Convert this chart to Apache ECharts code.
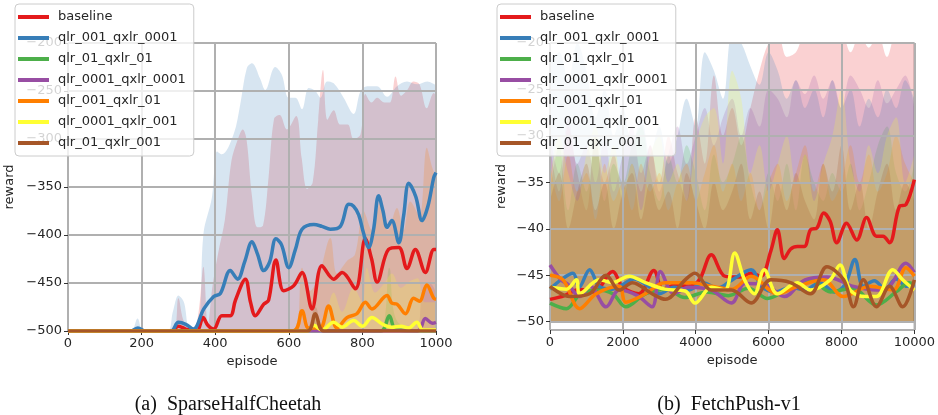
<!DOCTYPE html>
<html>
<head>
<meta charset="utf-8">
<script src="https://cdn.jsdelivr.net/npm/echarts@6/dist/echarts.min.js"></script>
<style>
  html, body { margin: 0; padding: 0; background: #fff; }
  #chart { width: 938px; height: 415px; }
</style>
</head>
<body>
<div id="chart"></div>
<script>
// run names and colours (same order in both plots)
const runNames = ['baseline', 'qlr_001_qxlr_0001', 'qlr_01_qxlr_01', 'qlr_0001_qxlr_0001',
  'qlr_001_qxlr_01', 'qlr_0001_qxlr_001', 'qlr_01_qxlr_001'];
const runColors = ['#e41a1c', '#377eb8', '#4daf4a', '#984ea3', '#ff7f00', '#ffff33', '#a65628'];

// ---- (a) SparseHalfCheetah : mean reward [episode, reward]
const cheetahBaseline = [[0,-500],[280,-500],[300,-495],[320,-498],[350,-500],[367,-486],[380,-494],[396,-498],[418,-484],[441,-484],[455,-468],[482,-446],[496,-470],[509,-484],[532,-472],[545,-468],[565,-426],[586,-458],[613,-453],[636,-439],[663,-477],[690,-432],[722,-446],[745,-439],[781,-456],[808,-404],[825,-425],[840,-449],[871,-415],[899,-413],[921,-435],[944,-415],[971,-439],[994,-415],[1000,-415]];
const cheetahQ001X0001 = [[0,-500],[170,-500],[190,-497],[210,-500],[280,-500],[300,-491],[320,-493],[341,-498],[369,-477],[396,-464],[414,-461],[441,-437],[461,-446],[480,-428],[500,-407],[515,-420],[532,-437],[548,-428],[565,-404],[580,-410],[600,-434],[618,-415],[636,-394],[668,-389],[690,-391],[713,-394],[740,-391],[763,-368],[776,-370],[790,-379],[803,-398],[817,-413],[830,-395],[844,-359],[856,-375],[867,-392],[880,-385],[899,-408],[912,-380],[926,-346],[945,-360],[962,-385],[978,-370],[994,-340],[1000,-335]];
const cheetahQ01X01 = [[0,-500],[850,-500],[873,-484],[892,-499],[1000,-500]];
const cheetahQ0001X0001 = [[0,-500],[950,-500],[971,-487],[990,-492],[1000,-491]];
const cheetahQ001X01 = [[0,-500],[612,-500],[636,-479],[654,-497],[685,-497],[708,-474],[731,-497],[758,-486],[785,-482],[808,-470],[826,-477],[867,-463],[880,-471],[894,-472],[917,-482],[939,-466],[955,-469],[975,-452],[994,-466],[1000,-467]];
const cheetahQ0001X001 = [[0,-500],[650,-500],[668,-494],[690,-499],[722,-491],[745,-496],[776,-489],[800,-495],[826,-486],[855,-493],[880,-496],[905,-495],[925,-497],[948,-491],[965,-499],[1000,-499]];
const cheetahQ01X001 = [[0,-500],[650,-500],[672,-482],[695,-500],[1000,-500]];

// ---- (a) spread: upper edge of each shaded band (lower edge is -500)
const cheetahBaselineTop = [[0,-500],[285,-500],[300,-466],[315,-490],[340,-500],[355,-480],[368,-433],[380,-495],[392,-455],[408,-419],[426,-385],[444,-323],[460,-302],[475,-290],[485,-300],[500,-360],[515,-392],[530,-390],[545,-340],[560,-279],[575,-275],[595,-290],[620,-276],[635,-320],[650,-352],[665,-345],[680,-280],[693,-228],[705,-280],[722,-270],[740,-285],[760,-285],[776,-300],[795,-295],[808,-253],[825,-262],[840,-257],[860,-262],[875,-262],[890,-235],[905,-255],[920,-250],[939,-240],[955,-243],[975,-268],[994,-252],[1000,-255]];
const cheetahQ001X0001Top = [[0,-500],[170,-500],[189,-487],[205,-500],[270,-500],[285,-480],[300,-463],[315,-470],[330,-497],[345,-497],[358,-486],[368,-399],[391,-361],[405,-313],[418,-316],[450,-295],[468,-264],[486,-226],[500,-221],[522,-237],[536,-249],[563,-225],[581,-233],[600,-257],[618,-257],[636,-269],[654,-247],[672,-250],[686,-257],[704,-240],[722,-242],[749,-257],[776,-274],[795,-250],[813,-245],[840,-245],[867,-256],[894,-245],[921,-240],[949,-243],[976,-240],[1000,-244]];
const cheetahQ01X01Top = [[0,-500],[845,-500],[873,-434],[895,-490],[1000,-500]];
const cheetahQ0001X0001Top = [[0,-500],[940,-500],[965,-455],[985,-451],[1000,-460]];
const cheetahQ001X01Top = [[0,-500],[615,-500],[636,-434],[658,-458],[680,-445],[713,-403],[731,-440],[758,-427],[780,-420],[803,-375],[826,-395],[849,-365],[870,-395],[894,-372],[912,-395],[930,-365],[955,-380],[975,-309],[990,-330],[1000,-340]];
const cheetahQ0001X001Top = [[0,-500],[650,-500],[670,-480],[690,-495],[722,-460],[745,-480],[776,-455],[800,-470],[812,-434],[835,-460],[860,-450],[880,-440],[905,-455],[930,-448],[950,-445],[970,-470],[1000,-470]];
const cheetahQ01X001Top = [[0,-500],[640,-500],[672,-475],[700,-500],[1000,-500]];

// ---- (b) FetchPush-v1 : mean reward [episode, reward]
const pushBaseline = [[0,-47.6],[400,-47.2],[815,-46.5],[1200,-46.8],[1720,-44.6],[2000,-46.3],[2440,-47],[2850,-44.5],[3100,-46.5],[3500,-46],[3800,-46.2],[4100,-45.5],[4430,-42.8],[4800,-45.1],[5200,-45.2],[5520,-44.8],[5790,-45.1],[6060,-42.4],[6240,-40.1],[6430,-43.2],[6600,-42.2],[6790,-41.9],[6980,-41.9],[7150,-40.1],[7330,-39.9],[7510,-38.3],[7690,-39.2],[7870,-41.5],[8140,-39.4],[8420,-41.2],[8690,-38.8],[8960,-40.8],[9140,-40.8],[9320,-41.5],[9590,-37.6],[9770,-37.4],[10000,-34.7]];
const pushQ001X0001 = [[0,-46.5],[300,-45.5],[630,-44.8],[800,-46.3],[1086,-44.4],[1350,-46.2],[1700,-46.5],[2000,-46],[2300,-45.4],[2700,-46.2],[3000,-47],[3400,-46.3],[3800,-46.6],[4200,-45.8],[4600,-46.4],[5000,-45.5],[5520,-44.4],[5800,-46.2],[6200,-46.8],[6600,-46.3],[7000,-46.6],[7400,-45.8],[7800,-46.8],[8100,-46],[8370,-43.3],[8600,-46.2],[8900,-45.6],[9200,-46.5],[9500,-45.4],[9800,-46.2],[10000,-46]];
const pushQ01X01 = [[0,-48],[450,-48.6],[815,-47.1],[1270,-46.6],[1720,-47],[2080,-48.4],[2620,-47],[3200,-46.5],[3700,-47.4],[4300,-46.8],[4900,-47.2],[5450,-46.4],[5970,-47.5],[6500,-46.6],[7150,-45.5],[7700,-46.8],[8300,-46.4],[8960,-48.2],[9500,-46.8],[9860,-45.8],[10000,-46]];
const pushQ0001X0001 = [[0,-43.9],[300,-45.5],[500,-46],[815,-47.3],[1100,-46.2],[1540,-48.4],[1900,-46.6],[2400,-47.2],[2800,-48.4],[3030,-44.6],[3400,-47],[3800,-46.3],[4430,-46.6],[4980,-48],[5350,-45.9],[5900,-46],[6430,-47.3],[7000,-45.5],[7600,-45.2],[8330,-46.2],[8960,-46.6],[9320,-46.2],[9770,-43.7],[10000,-44.7]];
const pushQ001X01 = [[0,-45],[360,-45.5],[815,-48.6],[1270,-47],[1900,-46.2],[2080,-47.9],[2620,-47],[3150,-45.8],[3900,-45.8],[4430,-46.2],[5000,-46.5],[5520,-45.1],[6240,-47],[6790,-46.2],[7510,-45.5],[8050,-47.3],[8780,-46.2],[9420,-46.6],[9770,-44.2],[10000,-45.1]];
const pushQ0001X001 = [[0,-46.3],[450,-46.5],[725,-45.5],[815,-47],[1350,-45.5],[1720,-45.8],[2170,-45.1],[2620,-45.8],[3150,-46.5],[3710,-46.7],[3980,-48],[4430,-46.3],[4800,-46.6],[5070,-42.6],[5340,-45.5],[5610,-47],[5880,-44.4],[6240,-47],[6790,-45.8],[7150,-46.6],[7690,-45.5],[7960,-43.9],[8240,-46.6],[8690,-47.3],[8960,-47.3],[9410,-44.4],[9680,-45.5],[10000,-46.6]];
const pushQ01X001 = [[0,-46.2],[545,-47.3],[1086,-47],[1540,-45],[1900,-46.6],[2260,-45.8],[2800,-47],[3170,-47.6],[3710,-45.5],[3980,-44.8],[4430,-46.6],[4980,-46.6],[5520,-48],[6060,-45.5],[6600,-45.8],[7150,-47],[7600,-44.1],[8060,-45.5],[8330,-48.4],[8600,-45.5],[8960,-48.4],[9320,-46.2],[9680,-48.4],[10000,-45.5]];

// ---- (b) spread: upper edge of each band at these episodes (lower edge is -50)
const pushBandEp = [0,250,500,750,1000,1250,1500,1750,2000,2250,2500,2750,3000,3250,3500,3750,4000,4250,4500,4750,5000,5250,5500,5750,6000,6250,6500,6750,7000,7250,7500,7750,8000,8250,8500,8750,9000,9250,9500,9750,10000];
const pushBaselineTop = [-31,-36,-29,-34,-38,-30,-35,-32,-37,-33,-36,-31,-35,-30,-34,-37,-28,-33,-23.5,-30,-27,-31,-27,-23,-20,-19,-21.5,-21,-19,-20,-18.5,-20,-19,-21,-19,-20.5,-19,-21.5,-19,-20,-19];
const pushQ001X0001Top = [-22,-21,-24,-20,-23,-28,-25,-30,-27,-31,-28,-32,-29,-33,-30,-26,-29,-21,-23,-26,-19,-20,-22.5,-24.5,-21,-23,-26,-24,-27,-25,-28,-24,-27,-25,-29,-26,-28,-25,-27,-24,-26];
const pushQ01X01Top = [-36,-31,-38,-33,-36,-30,-37,-33,-35,-31,-29,-34,-37,-32,-35,-31,-34,-38,-32,-35,-33,-30,-35,-38,-34,-37,-33,-38,-32,-35,-37,-34,-36,-33,-38,-35,-31,-29,-34,-36,-33];
const pushQ0001X0001Top = [-30,-34,-28,-33,-31,-35,-30,-36,-32,-29,-34,-31,-36,-32,-29,-33,-30,-27,-31,-28,-26,-30,-27,-29,-25,-26,-28,-24,-25.5,-23.5,-26,-24,-27,-23.5,-25,-27,-24,-26.5,-25,-23.5,-27];
const pushQ001X01Top = [-33,-37,-32,-36,-34,-39,-33,-37,-35,-38,-33,-36,-34,-38,-35,-33,-37,-34,-31,-36,-33,-37,-34,-38,-35,-33,-37,-34,-31,-36,-33,-37,-35,-31,-35,-32,-36,-34,-30,-33,-35];
const pushQ0001X001Top = [-35,-30,-34,-37,-32,-29,-34,-31,-36,-33,-38,-32,-30,-35,-33,-37,-31,-28,-27,-33,-23,-26,-34,-31,-36,-33,-30,-35,-32,-37,-33,-30,-25,-33,-36,-31,-34,-30,-28,-35,-32];
const pushQ01X001Top = [-37,-34,-40,-36,-33,-38,-35,-40,-36,-34,-39,-35,-38,-36,-40,-34,-37,-40,-35,-38,-36,-33,-39,-36,-40,-35,-38,-34,-37,-39,-33,-36,-31,-38,-35,-40,-36,-33,-38,-35,-37];

const cheetahMeans = [cheetahBaseline, cheetahQ001X0001, cheetahQ01X01, cheetahQ0001X0001, cheetahQ001X01, cheetahQ0001X001, cheetahQ01X001];
const cheetahTops = [cheetahBaselineTop, cheetahQ001X0001Top, cheetahQ01X01Top, cheetahQ0001X0001Top, cheetahQ001X01Top, cheetahQ0001X001Top, cheetahQ01X001Top];
const pushMeans = [pushBaseline, pushQ001X0001, pushQ01X01, pushQ0001X0001, pushQ001X01, pushQ0001X001, pushQ01X001];
const pushTops = [pushBaselineTop, pushQ001X0001Top, pushQ01X01Top, pushQ0001X0001Top, pushQ001X01Top, pushQ0001X001Top, pushQ01X001Top];

const font = 'DejaVu Sans';
const minus = v => String(v).replace('-', '\u2212');

function bandSeries(idx, data, axis, origin) {
  return {
    name: runNames[idx] + ' band', type: 'line', xAxisIndex: axis, yAxisIndex: axis,
    data: data, smooth: 0.35, showSymbol: false, silent: true, z: 1,
    lineStyle: { width: 0 },
    areaStyle: { color: runColors[idx], opacity: 0.2, origin: origin }
  };
}
function meanSeries(idx, data, axis) {
  return {
    name: runNames[idx], type: 'line', xAxisIndex: axis, yAxisIndex: axis,
    data: data, smooth: 0.35, showSymbol: false, z: 3,
    itemStyle: { color: runColors[idx] },
    lineStyle: { color: runColors[idx], width: 3.5 }
  };
}

const series = [];
runNames.forEach((n, i) => series.push(bandSeries(i, cheetahTops[i], 0, -500)));
runNames.forEach((n, i) => series.push(bandSeries(i, pushBandEp.map((e, k) => [e, pushTops[i][k]]), 1, -50)));
runNames.forEach((n, i) => series.push(meanSeries(i, cheetahMeans[i], 0)));
runNames.forEach((n, i) => series.push(meanSeries(i, pushMeans[i], 1)));

const axisLabel = { color: '#262626', fontFamily: font, fontSize: 13, margin: 6, formatter: minus };
const splitLine = { show: true, lineStyle: { color: '#b0b0b0', width: 2 } };
const axisTick = { show: true, length: 4, lineStyle: { color: '#333' } };
const nameStyle = { color: '#262626', fontFamily: font, fontSize: 13 };
const captionStyle = { fontFamily: 'Liberation Serif', fontSize: 20, fontWeight: 'normal', color: '#111' };

function legendAt(left) {
  return {
    data: runNames, orient: 'vertical', left: left, top: 4, selectedMode: false,
    backgroundColor: 'rgba(255,255,255,0.8)', borderColor: '#cccccc', borderWidth: 1, borderRadius: 4,
    padding: [5, 8, 5, 3], itemWidth: 31, itemHeight: 4, itemGap: 5, icon: 'rect',
    textStyle: { color: '#262626', fontFamily: font, fontSize: 13, lineHeight: 16, padding: [0, 0, 0, 4] }
  };
}

const option = {
  animation: false,
  backgroundColor: '#ffffff',
  title: [
    { text: '(a)  SparseHalfCheetah', left: 223, top: 390, textAlign: 'center', textStyle: captionStyle },
    { text: '(b)  FetchPush-v1', left: 724, top: 390, textAlign: 'center', textStyle: captionStyle }
  ],
  legend: [legendAt(15), legendAt(497)],
  grid: [
    { left: 68, top: 43, width: 368, height: 288, show: true, z: 2, borderColor: '#3c3c3c', borderWidth: 1 },
    { left: 550, top: 43, width: 368, height: 287, show: true, z: 2, borderColor: '#3c3c3c', borderWidth: 1 }
  ],
  xAxis: [
    { type: 'value', gridIndex: 0, min: 0, max: 1000, interval: 200, z: 2,
      name: 'episode', nameLocation: 'middle', nameGap: 24, nameTextStyle: nameStyle,
      axisLine: { show: false }, axisTick: axisTick, axisLabel: axisLabel, splitLine: splitLine },
    { type: 'value', gridIndex: 1, min: 0, max: 10000, interval: 2000, z: 2,
      name: 'episode', nameLocation: 'middle', nameGap: 24, nameTextStyle: nameStyle,
      axisLine: { show: false }, axisTick: axisTick, axisLabel: axisLabel, splitLine: splitLine }
  ],
  yAxis: [
    { type: 'value', gridIndex: 0, min: -500, max: -200, interval: 50, z: 2,
      name: 'reward', nameLocation: 'middle', nameGap: 52, nameTextStyle: nameStyle,
      axisLine: { show: false }, axisTick: axisTick, axisLabel: axisLabel, splitLine: splitLine },
    { type: 'value', gridIndex: 1, min: -50.9, max: -20, splitNumber: 6, z: 2,
      name: 'reward', nameLocation: 'middle', nameGap: 42, nameTextStyle: nameStyle,
      axisLine: { show: false }, axisTick: axisTick,
      axisLabel: Object.assign({}, axisLabel, { showMinLabel: false }), splitLine: splitLine }
  ],
  series: series
};

const chart = echarts.init(document.getElementById('chart'), null, { renderer: 'canvas' });
chart.setOption(option);
</script>
</body>
</html>
